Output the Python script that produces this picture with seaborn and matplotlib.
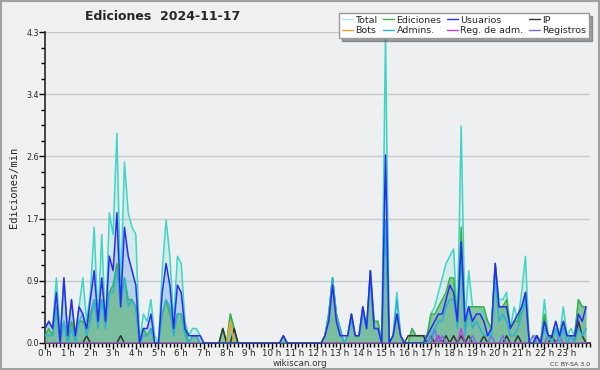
import numpy as np
import pandas as pd
import seaborn as sns
import matplotlib.pyplot as plt
from matplotlib.lines import Line2D
from matplotlib.ticker import FixedLocator, MultipleLocator

# valores cada 10 minutos (144 puntos), ediciones/min
total = [0.2, 0.3, 0.2, 0.9, 0.1, 0.9, 0.1, 0.6, 0.1, 0.5, 0.9, 0.3, 0.7, 1.6, 0.3, 1.5, 0.2, 1.8, 1.5, 2.9, 0.7, 2.5, 1.8, 1.6,
         1.5, 0.0, 0.4, 0.3, 0.6, 0.1, 0.0, 1.0, 1.7, 1.2, 0.3, 1.2, 1.1, 0.3, 0.1, 0.2, 0.2, 0.1, 0, 0, 0, 0, 0, 0.2,
         0, 0.4, 0.2, 0, 0, 0, 0, 0, 0, 0, 0, 0, 0, 0, 0, 0.1, 0, 0, 0, 0, 0, 0, 0, 0,
         0, 0, 0.1, 0.4, 0.9, 0.4, 0.2, 0.0, 0.1, 0.4, 0.1, 0.1, 0.5, 0.2, 1.0, 0.3, 0.3, 0.0, 4.3, 0.0, 0.1, 0.7, 0.1, 0.0,
         0, 0.2, 0.1, 0.1, 0.1, 0.1, 0.4, 0.5, 0.7, 0.9, 1.1, 1.2, 1.3, 0.3, 3.0, 0.3, 1.0, 0.5, 0.5, 0.5, 0.4, 0.3, 0.2, 1.1,
         0.6, 0.6, 0.7, 0.2, 0.5, 0.3, 0.7, 1.2, 0.0, 0.1, 0.1, 0.0, 0.6, 0.1, 0.1, 0.3, 0.1, 0.5, 0.1, 0.2, 0.1, 0.6, 0.5, 0.5]
ediciones = [0.1, 0.2, 0.1, 0.5, 0.0, 0.3, 0.0, 0.3, 0.1, 0.3, 0.3, 0.2, 0.4, 0.6, 0.3, 0.6, 0.3, 0.7, 0.8, 1.1, 0.6, 0.9, 0.6, 0.6,
             0.5, 0.0, 0.2, 0.1, 0.2, 0.0, 0.0, 0.4, 0.6, 0.4, 0.2, 0.4, 0.4, 0.2, 0.0, 0.1, 0.1, 0.0, 0, 0, 0, 0, 0, 0.2,
             0, 0.4, 0.2, 0, 0, 0, 0, 0, 0, 0, 0, 0, 0, 0, 0, 0.1, 0, 0, 0, 0, 0, 0, 0, 0,
             0, 0, 0.1, 0.4, 0.9, 0.4, 0.2, 0.0, 0.1, 0.4, 0.1, 0.1, 0.5, 0.2, 1.0, 0.3, 0.3, 0.0, 1.7, 0.0, 0.1, 0.4, 0.1, 0.0,
             0, 0.2, 0.1, 0.1, 0.1, 0.1, 0.4, 0.4, 0.5, 0.6, 0.7, 0.9, 0.9, 0.3, 1.6, 0.2, 0.5, 0.5, 0.5, 0.5, 0.5, 0.3, 0.2, 1.1,
             0.5, 0.5, 0.6, 0.2, 0.3, 0.3, 0.5, 0.7, 0.0, 0.0, 0.1, 0.0, 0.4, 0.1, 0.1, 0.2, 0.1, 0.3, 0.1, 0.1, 0.1, 0.6, 0.5, 0.5]
usuarios = [0.2, 0.3, 0.2, 0.7, 0.0, 0.9, 0.1, 0.6, 0.1, 0.5, 0.4, 0.2, 0.6, 1.0, 0.3, 0.9, 0.3, 1.2, 1.0, 1.8, 0.5, 1.6, 1.2, 1.0,
            0.8, 0.0, 0.2, 0.2, 0.4, 0.0, 0.0, 0.7, 1.1, 0.8, 0.2, 0.8, 0.7, 0.2, 0.1, 0.1, 0.1, 0.1, 0, 0, 0, 0, 0, 0,
            0, 0, 0, 0, 0, 0, 0, 0, 0, 0, 0, 0, 0, 0, 0, 0.1, 0, 0, 0, 0, 0, 0, 0, 0,
            0, 0, 0.1, 0.3, 0.8, 0.3, 0.1, 0.1, 0.1, 0.4, 0.1, 0.1, 0.5, 0.2, 1.0, 0.2, 0.2, 0.0, 2.6, 0.0, 0.1, 0.4, 0.1, 0.0,
            0, 0, 0, 0, 0, 0.1, 0.2, 0.3, 0.4, 0.4, 0.6, 0.8, 0.7, 0.3, 1.4, 0.3, 0.5, 0.3, 0.4, 0.4, 0.3, 0.1, 0.2, 1.1,
            0.5, 0.5, 0.5, 0.2, 0.3, 0.4, 0.5, 0.7, 0.0, 0.0, 0.1, 0.0, 0.3, 0.1, 0.1, 0.3, 0.1, 0.3, 0.1, 0.1, 0.1, 0.4, 0.3, 0.5]
admins = [0.1, 0.1, 0.1, 0.5, 0.0, 0.3, 0.0, 0.2, 0.0, 0.3, 0.4, 0.1, 0.3, 0.6, 0.2, 0.6, 0.2, 0.7, 0.7, 1.0, 0.5, 0.9, 0.5, 0.6,
          0.5, 0.0, 0.1, 0.1, 0.2, 0.0, 0.0, 0.4, 0.6, 0.5, 0.1, 0.4, 0.4, 0.1, 0.0, 0.1, 0.1, 0.0, 0, 0, 0, 0, 0, 0,
          0, 0, 0, 0, 0, 0, 0, 0, 0, 0, 0, 0, 0, 0, 0, 0, 0, 0, 0, 0, 0, 0, 0, 0,
          0, 0, 0.1, 0.4, 0.9, 0.4, 0.2, 0.0, 0.1, 0.3, 0.1, 0.1, 0.4, 0.2, 0.9, 0.2, 0.2, 0.0, 1.7, 0.0, 0.1, 0.6, 0.1, 0.0,
          0, 0, 0, 0, 0, 0, 0.1, 0.2, 0.3, 0.3, 0.5, 0.6, 0.6, 0.2, 1.2, 0.1, 0.5, 0.2, 0.3, 0.2, 0.1, 0.1, 0.1, 0.9,
          0.3, 0.4, 0.3, 0.1, 0.1, 0.2, 0.4, 0.6, 0.0, 0.0, 0.0, 0.0, 0.2, 0.1, 0.0, 0.2, 0.0, 0.2, 0.0, 0.1, 0.0, 0.2, 0.1, 0.2]
ip = [0] * 144
for i, v in [(11, 0.1), (20, 0.1), (47, 0.2), (50, 0.2), (96, 0.1), (97, 0.1), (98, 0.1), (99, 0.1), (100, 0.1),
             (102, 0.1), (104, 0.1), (106, 0.1), (108, 0.1), (110, 0.1), (112, 0.1), (116, 0.1), (122, 0.1),
             (125, 0.1), (130, 0.1), (134, 0.1), (141, 0.3), (142, 0.1)]:
    ip[i] = v
bots = [0] * 144
bots[49] = 0.3
reg_adm = [0] * 144
for i, v in [(104, 0.1), (110, 0.2), (136, 0.1)]:
    reg_adm[i] = v
registros = [0] * 144
for i, v in [(103, 0.2), (105, 0.1), (113, 0.1), (118, 0.1), (121, 0.1), (129, 0.1), (133, 0.1), (139, 0.1)]:
    registros[i] = v

horas = np.arange(144) / 6
df = pd.DataFrame({'hora': horas, 'Total': total, 'Ediciones': ediciones, 'Usuarios': usuarios, 'IP': ip,
                   'Bots': bots, 'Admins.': admins, 'Reg. de adm.': reg_adm, 'Registros': registros})

colores = {'Total': '#3fd5c5', 'Ediciones': '#3cb043', 'Usuarios': '#2b2bf0', 'IP': '#333333',
           'Bots': '#f5a030', 'Admins.': '#2fb0d8', 'Reg. de adm.': '#c040e0', 'Registros': '#7070f0'}

sns.set_style("ticks")
plt.rcParams['font.family'] = ['DejaVu Sans']
fig = plt.figure(figsize=(6, 3.7), dpi=100, facecolor='#f0f0f0')
ax = fig.add_axes([0.075, 0.073, 0.908, 0.8405])
ax.set_facecolor('#eeeff1')

# rellenos
ax.fill_between(df['hora'], df['Total'], color='#3fd5c5', alpha=0.15, lw=0, zorder=1)
ax.fill_between(df['hora'], df['Usuarios'], color='#4080e0', alpha=0.22, lw=0, zorder=2)
ax.fill_between(df['hora'], df['Ediciones'], color='#55b070', alpha=0.6, lw=0, zorder=3)

orden = ['Total', 'Ediciones', 'IP', 'Bots', 'Registros', 'Reg. de adm.', 'Admins.', 'Usuarios']
for z, s in enumerate(orden):
    sns.lineplot(data=df, x='hora', y=s, color=colores[s], lw=1.1, ax=ax, zorder=4 + z)

ymax = 4.3
ax.set_xlim(0, 24)
ax.set_ylim(0, ymax)
yt = [ymax * k / 5 for k in range(6)]
ax.yaxis.set_major_locator(FixedLocator(yt))
ax.yaxis.set_minor_locator(FixedLocator([ymax * k / 20 for k in range(21)]))
ax.set_yticklabels([f'{v:.1f}' for v in yt], fontsize=5.8)
ax.set_xticks(range(24))
ax.set_xticklabels([f'{h} h' for h in range(24)], fontsize=6.2)
ax.xaxis.set_minor_locator(MultipleLocator(1 / 6))
ax.tick_params(axis='both', which='major', length=4, width=1, pad=0.5, color='black')
ax.tick_params(axis='both', which='minor', length=3, width=1, color='black')
for y in yt[1:]:
    ax.axhline(y, color='#c8c8c8', lw=1, zorder=0)
sns.despine(ax=ax)
ax.spines['left'].set_linewidth(1.2)
ax.spines['bottom'].set_linewidth(1.2)
ax.set_xlabel('')
ax.set_ylabel('Ediciones/min', fontsize=7.5, family='DejaVu Sans Mono', labelpad=5)

fig.text(0.142, 0.955, 'Ediciones  2024-11-17', fontsize=9, fontweight='bold', va='center')
fig.text(0.5, 0.012, 'wikiscan.org', fontsize=6.3, ha='center', color='#333333')
fig.text(0.983, 0.012, 'CC BY-SA 3.0', fontsize=4.5, ha='right', color='#333333')

etiquetas = ['Total', 'Bots', 'Ediciones', 'Admins.', 'Usuarios', 'Reg. de adm.', 'IP', 'Registros']
cols_leg = dict(colores, Total='#a8e8e4')
handles = [Line2D([], [], color=cols_leg[e], lw=1) for e in etiquetas]
leg = fig.legend(handles, etiquetas, ncol=4, loc='upper right', bbox_to_anchor=(0.99, 0.978), fontsize=6.8,
                 frameon=True, shadow=True, fancybox=False, handlelength=1.1, handletextpad=0.3,
                 columnspacing=0.6, labelspacing=0.15, borderpad=0.3)
leg.get_frame().set_edgecolor('#999999')
leg.get_frame().set_facecolor('white')
if ax.get_legend():
    ax.get_legend().remove()

fig.patches.append(plt.Rectangle((0.002, 0.003), 0.996, 0.994, transform=fig.transFigure,
                                 fill=False, edgecolor='#a0a0a0', lw=1.5))
fig.savefig('out.png', dpi=100, facecolor=fig.get_facecolor())
